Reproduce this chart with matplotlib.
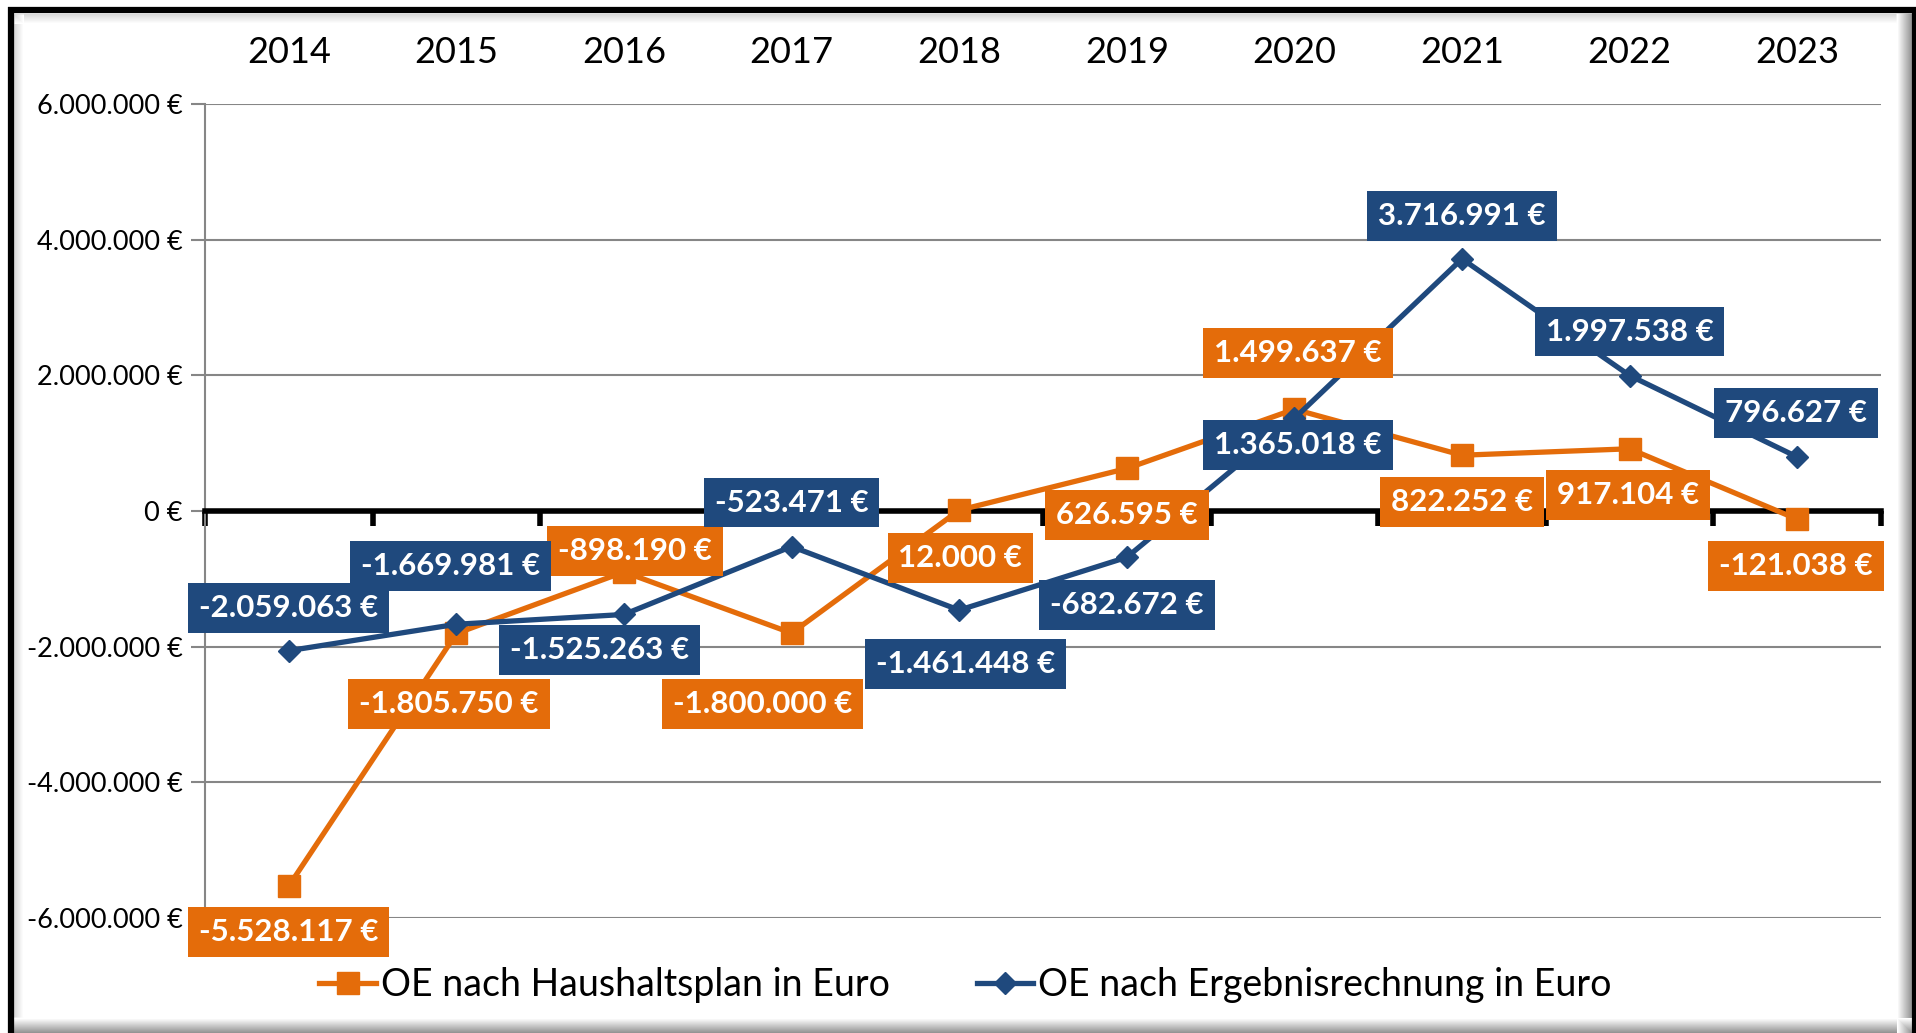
import numpy as np
import matplotlib
matplotlib.use("Agg")
import matplotlib.pyplot as plt
from matplotlib.lines import Line2D
from matplotlib.ticker import FuncFormatter

plt.rcParams['font.family'] = ['Lato', 'DejaVu Sans']

# Daten
jahre = ['2014', '2015', '2016', '2017', '2018', '2019', '2020', '2021', '2022', '2023']
haushaltsplan = [-5528117, -1805750, -898190, -1800000, 12000, 626595, 1499637, 822252, 917104, -121038]
ergebnis = [-2059063, -1669981, -1525263, -523471, -1461448, -682672, 1365018, 3716991, 1997538, 796627]
serien_namen = ['OE nach Haushaltsplan in Euro', 'OE nach Ergebnisrechnung in Euro']

# Position der Beschriftungen (Versatz in Punkten)
off_haushalt = [(0, -38), (-6, -58), (9, 17), (-24, -58), (1, -39), (0, -38), (3, 46), (0, -38), (-1, -38), (-1, -38)]
off_ergebnis = [(0, 35), (-5, 48), (-20, -29), (0, 36), (5, -44), (0, -39), (3, -22), (0, 35), (0, 36), (-1, 36)]

orange = '#E46C0A'
blau = '#1F497D'
grau = '#868686'

W, H = 1916, 1033
fig = plt.figure(figsize=(W / 100, H / 100), dpi=100)
ax = fig.add_axes([205 / W, 1 - 918 / H, (1881 - 205) / W, (918 - 104) / H])

x = np.arange(len(jahre))
ax.plot(x, haushaltsplan, color=orange, lw=3.8, marker='s', ms=16, zorder=4, label=serien_namen[0])
ax.plot(x, ergebnis, color=blau, lw=3.8, marker='D', ms=11, zorder=4, label=serien_namen[1])

def euro(v):
    return f"{v:,.0f} €".replace(',', '.')

f = 0.88
for werte, offs, col in [(haushaltsplan, off_haushalt, orange), (ergebnis, off_ergebnis, blau)]:
    for i, v in enumerate(werte):
        ax.annotate(euro(v), (x[i], v), xytext=(offs[i][0] * f, offs[i][1] * f),
                    textcoords='offset points', ha='center', va='center',
                    color='white', fontsize=22.5, fontweight='bold', zorder=6,
                    bbox=dict(boxstyle='square,pad=0.35', fc=col, ec='none'))

ax.set_xlim(-0.5, len(jahre) - 0.5)
ax.set_ylim(-6000000, 6000000)
ax.set_yticks(np.arange(-6000000, 6000001, 2000000))
ax.yaxis.set_major_formatter(FuncFormatter(lambda v, p: euro(v)))
ax.grid(axis='y', color=grau, lw=1.5, zorder=0)
ax.tick_params(axis='y', colors=grau, length=10, width=1.5, labelsize=19.5, labelcolor='black', pad=6)

# x-Achse bei 0 mit Teilstrichen, Jahreszahlen oben
ax.spines['bottom'].set_position(('data', 0))
ax.spines['bottom'].set_linewidth(4)
ax.spines['bottom'].set_zorder(3)
ax.set_xticks(np.arange(len(jahre) + 1) - 0.5)
ax.set_xticks(x, jahre, minor=True)
ax.tick_params(axis='x', which='major', direction='out', length=11, width=4, labelbottom=False)
ax.tick_params(axis='x', which='minor', bottom=False, top=False, labelbottom=False,
               labeltop=True, labelsize=26, pad=23)
ax.spines['top'].set_visible(False)
ax.spines['right'].set_visible(False)
ax.spines['left'].set_color(grau)
ax.spines['left'].set_linewidth(1.5)

fig.legend(loc='center', bbox_to_anchor=(0.504, 1 - 985 / H), ncol=2, frameon=False,
           fontsize=27, handlelength=1.5, handletextpad=0.15, columnspacing=2.3)

# Rahmen mit Schatten
def px_line(x0, y0, x1, y1, c, lw):
    fig.add_artist(Line2D([x0 / W, x1 / W], [1 - y0 / H, 1 - y1 / H], color=c, lw=lw,
                          transform=fig.transFigure, solid_capstyle='butt'))

for k in range(16):
    g = 0.55 + 0.45 * k / 15
    px_line(1912 - k, 13, 1912 - k, H, str(g), 0.75)
    px_line(13, H - k, 1912, H - k, str(g), 0.75)
for k in range(10):
    g = 0.85 + 0.15 * k / 9
    px_line(14 + k, 14, 14 + k, H - 16, str(g), 0.75)
    px_line(14, 14 + k, 1896, 14 + k, str(g), 0.75)
px_line(10.5, 7, 10.5, H, 'black', 4.5)
px_line(8, 10, 1916, 10, 'black', 4.5)
px_line(1914, 7, 1914, H, 'black', 3)

fig.savefig('out.png', dpi=100)
